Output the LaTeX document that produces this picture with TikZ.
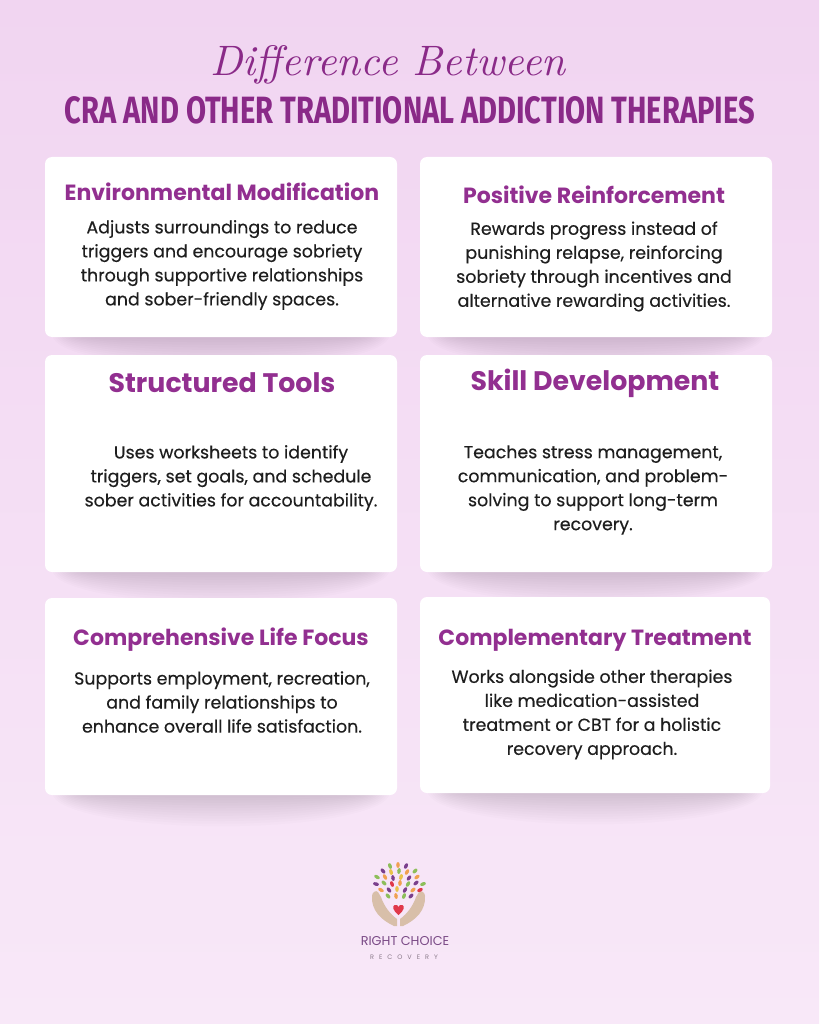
\documentclass[tikz,border=0pt]{standalone}
\usepackage{fontspec}
\setmainfont{Poppins}
\newfontfamily\titlefont{Fira Sans}
\newfontfamily\difffont{Latin Modern Roman}
\definecolor{bgtop}{HTML}{F1D5F1}
\definecolor{bgbot}{HTML}{F8E8F8}
\definecolor{ttl}{HTML}{8A2A88}
\definecolor{hd}{HTML}{922F90}
\definecolor{bodyc}{HTML}{1E1E1E}
\definecolor{hand}{HTML}{D8BFA9}
\definecolor{lgreen}{HTML}{8DBE5A}
\definecolor{lpurple}{HTML}{7B3F8C}
\definecolor{lorange}{HTML}{F0A050}
\definecolor{lyellow}{HTML}{E9C24A}
\definecolor{lred}{HTML}{E0384A}
\definecolor{logotext}{HTML}{7A4A86}
\definecolor{logosub}{HTML}{8A7A8A}
\definecolor{shadowc}{HTML}{6E4E6E}
\tikzset{
  card/.style={fill=white, rounded corners=7pt, inner sep=0pt},
  cardshade/.style={fill=shadowc, opacity=0.02},
  head/.style={text=hd, font=\fontsize{22}{26}\selectfont\bfseries, inner sep=0pt},
  bighead/.style={text=hd, font=\fontsize{26.8}{30}\selectfont\bfseries, inner sep=0pt},
  bodytxt/.style={text=bodyc, font=\fontsize{17.4}{24}\selectfont\addfontfeature{FakeBold=0.35}, align=center, inner sep=0pt}
}
\newcommand\mycardshadow[3]{%
  \foreach \i in {1,...,12}{%
    \path[cardshade] ({(#1+#2)/2},{#3-2}) ellipse [x radius={(#2-#1)/2-34+2.2*\i}, y radius={2+2.6*\i}];
  }%
}
\begin{document}
\begin{tikzpicture}[x=1pt,y=-1pt]
\useasboundingbox (0,0) rectangle (819,1024);
\shade[top color=bgtop,bottom color=bgbot] (0,0) rectangle (819,1024);

% titles
\node[text=ttl, inner sep=0pt] (t1) at (388,65) {\resizebox{355pt}{!}{\difffont\itshape Difference Between}};
\node[text=ttl, inner sep=0pt, anchor=south] (t2) at (410,124) {\resizebox{690pt}{27pt}{\titlefont\bfseries CRA AND OTHER TRADITIONAL ADDICTION THERAPIES}};

% shadows
\mycardshadow{45}{397}{337}
\mycardshadow{420}{772}{337}
\mycardshadow{45}{397}{572}
\mycardshadow{420}{772}{572}
\mycardshadow{45}{397}{795}
\mycardshadow{420}{770}{793}

% cards
\node[card, minimum width=352pt, minimum height=180pt] (c1) at (221,247) {};
\node[card, minimum width=352pt, minimum height=180pt] (c2) at (596,247) {};
\node[card, minimum width=352pt, minimum height=217pt] (c3) at (221,463.5) {};
\node[card, minimum width=352pt, minimum height=217pt] (c4) at (596,463.5) {};
\node[card, minimum width=352pt, minimum height=197pt] (c5) at (221,696.5) {};
\node[card, minimum width=350pt, minimum height=196pt] (c6) at (595,695) {};

% headings
\node[head] (h1) at (222,192) {Environmental Modification};
\node[head] (h2) at (594,195) {Positive Reinforcement};
\node[bighead] (h3) at (222,383) {Structured Tools};
\node[bighead] (h4) at (595,383) {Skill Development};
\node[head] (h5) at (221,640) {Comprehensive Life Focus};
\node[head] (h6) at (595,640) {Complementary Treatment};

% bodies
\node[bodytxt] (b1) at (222,265) {Adjusts surroundings to reduce\\triggers and encourage sobriety\\through supportive relationships\\and sober-friendly spaces.};
\node[bodytxt] (b2) at (594,266.5) {Rewards progress instead of\\punishing relapse, reinforcing\\sobriety through incentives and\\alternative rewarding activities.};
\node[bodytxt] (b3) at (231,478) {Uses worksheets to identify\\triggers, set goals, and schedule\\sober activities for accountability.};
\node[bodytxt] (b4) at (593,490) {Teaches stress management,\\communication, and problem-\\solving to support long-term\\recovery.};
\node[bodytxt] (b5) at (222,702) {Supports employment, recreation,\\and family relationships to\\enhance overall life satisfaction.};
\node[bodytxt] (b6) at (592,714.5) {Works alongside other therapies\\like medication-assisted\\treatment or CBT for a holistic\\recovery approach.};

% logo: hands
\fill[hand] (372,896) .. controls (371,910) and (381,920) .. (394,926) -- (397,926) -- (397,919)
  .. controls (390,914) and (384,906) .. (381,897) -- (378,892) .. controls (376,890) and (372,892) .. (372,896) -- cycle;
\fill[hand] (425,896) .. controls (426,910) and (416,920) .. (403,926) -- (400,926) -- (400,919)
  .. controls (407,914) and (413,906) .. (416,897) -- (419,892) .. controls (421,890) and (425,892) .. (425,896) -- cycle;
% heart
\fill[lred] (398.5,915) .. controls (393,911) and (392,906) .. (394.5,905) .. controls (396.5,904) and (398.5,906) .. (398.5,907)
  .. controls (398.5,906) and (400.5,904) .. (402.5,905) .. controls (405,906) and (404,911) .. (398.5,915) -- cycle;
% leaves
\foreach \x/\y/\c/\r in {
  390/866/lgreen/20, 398/865/lorange/0, 406/866/lpurple/-25,
  383/871/lpurple/40, 391/872/lyellow/15, 399/871/lgreen/-10, 407/872/lorange/-30, 415/871/lgreen/-45,
  377/877/lgreen/60, 385/877/lorange/30, 393/878/lpurple/10, 401/877/lyellow/-15, 409/878/lpurple/-35, 417/877/lorange/-55,
  376/884/lpurple/75, 384/883/lgreen/45, 392/884/lred/20, 400/883/lorange/-5, 408/884/lgreen/-30, 416/883/lpurple/-50, 423/884/lgreen/-70,
  381/890/lorange/60, 389/890/lpurple/35, 397/889/lyellow/0, 405/890/lpurple/-30, 413/890/lorange/-50, 420/890/lred/-65,
  388/896/lgreen/40, 396/896/lorange/10, 404/896/lgreen/-20, 411/896/lpurple/-45}
  \fill[\c, rotate around={\r:(\x,\y)}] (\x,\y) ellipse [x radius=1.8pt, y radius=3pt];
\node[text=logotext, inner sep=0pt, font=\fontsize{12.8}{14}\selectfont] (lt) at (405,941.5) {RIGHT CHOICE};
\node[text=logosub, inner sep=0pt, font=\fontsize{6.5}{8}\selectfont] (ls) at (404,957) {R\hspace{5pt}E\hspace{5pt}C\hspace{5pt}O\hspace{5pt}V\hspace{5pt}E\hspace{5pt}R\hspace{5pt}Y};
\end{tikzpicture}
\end{document}
